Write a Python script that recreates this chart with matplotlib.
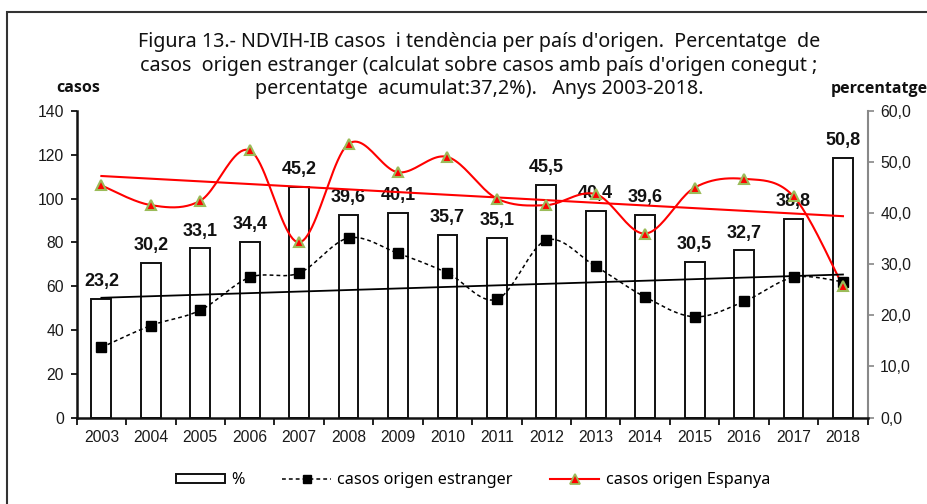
import matplotlib
matplotlib.use("Agg")
import matplotlib.pyplot as plt
import matplotlib.patches as mpatches
from matplotlib.lines import Line2D
import numpy as np

years = [str(y) for y in range(2003, 2019)]
pct_estranger = [23.2, 30.2, 33.1, 34.4, 45.2, 39.6, 40.1, 35.7, 35.1, 45.5, 40.4, 39.6, 30.5, 32.7, 38.8, 50.8]
casos_estranger = [32, 42, 49, 64, 66, 82, 75, 66, 54, 81, 69, 55, 46, 53, 64, 62]
casos_espanya = [106, 97, 99, 122, 80, 125, 112, 119, 100, 97, 102, 84, 105, 109, 101, 60]

title_lines = [
    "Figura 13.- NDVIH-IB casos  i tendència per país d'origen.  Percentatge  de",
    "casos  origen estranger (calculat sobre casos amb país d'origen conegut ;",
    "percentatge  acumulat:37,2%).   Anys 2003-2018.",
]

TICK_FONT = "Liberation Sans"
TEXT_FONT = "Noto Sans"
BOLD_FONT = "Open Sans"


def smooth(xs, ys, n=24):
    # excel style smoothed line (catmull-rom bezier between the points)
    xs = np.asarray(xs, float)
    ys = np.asarray(ys, float)
    pts = np.column_stack([xs, ys])
    out = []
    t = np.linspace(0, 1, n)[:, None]
    for i in range(len(pts) - 1):
        p0 = pts[i - 1] if i > 0 else pts[i]
        p1 = pts[i]
        p2 = pts[i + 1]
        p3 = pts[i + 2] if i + 2 < len(pts) else pts[i + 1]
        c1 = p1 + (p2 - p0) / 6
        c2 = p2 - (p3 - p1) / 6
        seg = ((1 - t) ** 3) * p1 + 3 * ((1 - t) ** 2) * t * c1 + 3 * (1 - t) * t ** 2 * c2 + t ** 3 * p2
        out.append(seg if i == 0 else seg[1:])
    out = np.vstack(out)
    return out[:, 0], out[:, 1]


fig = plt.figure(figsize=(9.27, 5.04), dpi=100)
ax_pct = fig.add_axes([0.0827, 0.1716, 0.8533, 0.6082])
ax_cases = ax_pct.twinx()
ax_pct.yaxis.tick_right()
ax_cases.yaxis.tick_left()

x = np.arange(len(years))

# bars = percentage (right axis)
ax_pct.bar(x, pct_estranger, width=0.4, color="white", edgecolor="#111111", linewidth=1.4, zorder=2)
for xi, v in zip(x, pct_estranger):
    ax_pct.annotate(f"{v:.1f}".replace(".", ","), (xi, v), xytext=(0, 12.5), textcoords="offset points",
                    ha="center", va="center", fontsize=13, fontweight="bold", family=TICK_FONT, color="#111111")

ax_pct.set_ylim(0, 60)
ax_pct.set_yticks(np.arange(0, 61, 10))
ax_pct.set_yticklabels([f"{v:.1f}".replace(".", ",") for v in np.arange(0, 61, 10)])
ax_pct.set_xlim(-0.5, len(years) - 0.5)
ax_pct.set_xticks(x)
ax_pct.set_xticklabels(years)
ax_pct.set_xticks(np.arange(-0.5, len(years)), minor=True)
ax_pct.tick_params(axis="x", which="major", length=0, pad=9, labelsize=11.3, labelcolor="#1a1a1a")
ax_pct.tick_params(axis="x", which="minor", length=5, width=1.3, color="#111111")
ax_pct.tick_params(axis="y", length=4, width=1.2, color="#888888", pad=5, labelsize=11.3, labelcolor="#1a1a1a")
for lab in ax_pct.get_xticklabels() + ax_pct.get_yticklabels():
    lab.set_family(TICK_FONT)

# lines = cases (left axis)
sx, sy = smooth(x, casos_estranger)
ax_cases.plot(sx, sy, color="black", lw=1.1, ls=(0, (2.5, 2)), zorder=3)
ax_cases.plot(x, casos_estranger, ls="none", marker="s", ms=6.5, color="black", zorder=4)

sx, sy = smooth(x, casos_espanya)
ax_cases.plot(sx, sy, color="#ff0000", lw=1.5, zorder=3)
ax_cases.plot(x, casos_espanya, ls="none", marker="^", ms=7.5, markerfacecolor="#ff0000",
              markeredgecolor="#9bbb59", markeredgewidth=1.5, zorder=4)

# linear trends
tx = np.array([x[0], x[-1]])
k, b = np.polyfit(x, casos_estranger, 1)
ax_cases.plot(tx, k * tx + b, color="black", lw=1.3, zorder=3)
k, b = np.polyfit(x, casos_espanya, 1)
ax_cases.plot(tx, k * tx + b, color="#ff0000", lw=1.5, zorder=3)

ax_cases.set_ylim(0, 140)
ax_cases.set_yticks(np.arange(0, 141, 20))
ax_cases.tick_params(axis="y", length=4, width=1.3, color="#111111", pad=5, labelsize=11.3, labelcolor="#1a1a1a")
for lab in ax_cases.get_yticklabels():
    lab.set_family(TICK_FONT)

for s in ["top", "left"]:
    ax_pct.spines[s].set_visible(False)
ax_pct.spines["right"].set_color("#888888")
ax_pct.spines["right"].set_linewidth(1.5)
ax_pct.spines["bottom"].set_color("#111111")
ax_pct.spines["bottom"].set_linewidth(1.8)
for s in ["top", "right", "bottom"]:
    ax_cases.spines[s].set_visible(False)
ax_cases.spines["left"].set_color("#111111")
ax_cases.spines["left"].set_linewidth(1.8)

# titles
for i, line in enumerate(title_lines):
    fig.text(479 / 927, 1 - (47 + 23.5 * i) / 504, line, ha="center", va="baseline",
             fontsize=14.2, family=TEXT_FONT, color="#111111")
fig.text(78 / 927, 1 - 92 / 504, "casos", ha="center", va="baseline", fontsize=11.5,
         fontweight="bold", family=BOLD_FONT, color="#111111")
fig.text(879 / 927, 1 - 93 / 504, "percentatge", ha="center", va="baseline", fontsize=11.5,
         fontweight="bold", family=BOLD_FONT, color="#111111")

# legend
handles = [
    mpatches.Patch(facecolor="white", edgecolor="#111111", linewidth=1.4),
    Line2D([], [], color="black", lw=1.1, ls=(0, (2.5, 2)), marker="s", ms=6),
    Line2D([], [], color="#ff0000", lw=1.5, marker="^", ms=7, markerfacecolor="#ff0000",
           markeredgecolor="#9bbb59", markeredgewidth=1.3),
]
labels = ["%", "casos origen estranger", "casos origen Espanya"]
fig.legend(handles, labels, loc="center", bbox_to_anchor=(473 / 927, 1 - 480 / 504), ncol=3,
           frameon=False, prop={"family": TEXT_FONT, "size": 11.7}, handlelength=3.0, handleheight=0.5,
           handletextpad=0.4, columnspacing=2.3)

# outer frame of the figure
fig.patches.append(mpatches.Rectangle((7 / 927, -0.1), 1.2, 1.1 - 12 / 504, transform=fig.transFigure,
                                      fill=False, edgecolor="#333333", linewidth=1.5))

fig.savefig("out.png", dpi=100)
